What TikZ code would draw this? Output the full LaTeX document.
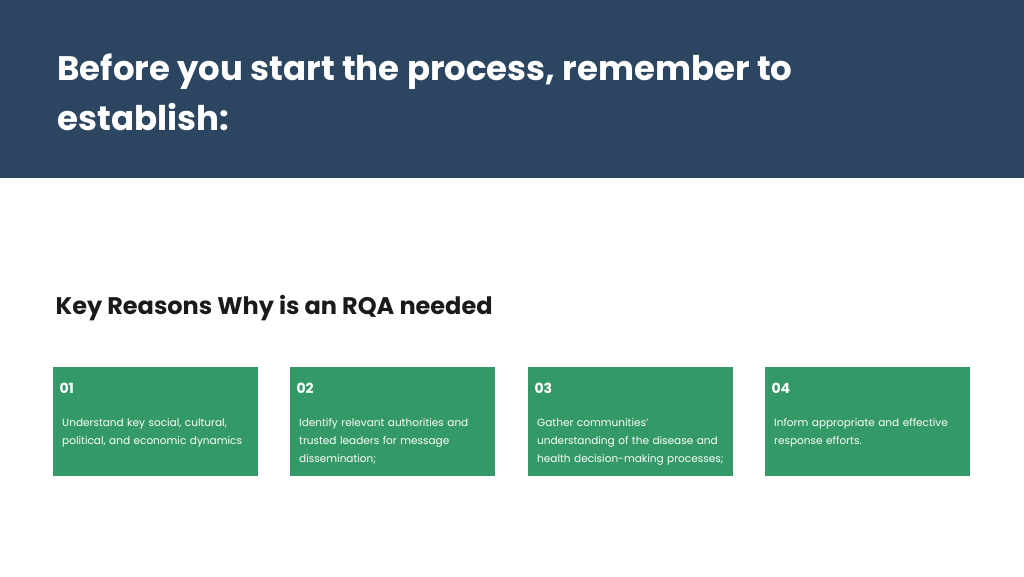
\documentclass[tikz,border=0pt]{standalone}
\usepackage{fontspec}
\setmainfont{Poppins}
\usepackage{tikz}
\definecolor{bannerblue}{HTML}{2C4662}
\definecolor{cardgreen}{HTML}{339966}
\definecolor{headdark}{HTML}{1A1A1A}
\tikzset{
  card/.style = {fill = cardgreen, draw = none},
  num/.style = {anchor = west, text = white, font = \fontsize{14}{14}\selectfont\bfseries},
  body/.style = {anchor = north west, text = white, align = left, text width = 190pt,
    inner sep = 0pt, font = \fontsize{10.5}{18}\selectfont}
}
\begin{document}
\begin{tikzpicture}[x = 1pt, y = -1pt]
\useasboundingbox (0, 0) rectangle (1024, 576);
\fill[color = bannerblue] (0, 0) rectangle (1024, 178);
\node (title) at (54, 92) [anchor = west, text = white, align = left,
  font = \fontsize{34}{50}\selectfont\bfseries] {Before you start the process, remember to\\establish:};
\node (reasons) at (52, 308) [anchor = west, text = headdark,
  font = \fontsize{24}{24}\selectfont\bfseries] {Key Reasons Why is an RQA needed};
% cards
\foreach \x/\n/\t in {53/01/{Understand key social, cultural,\\political, and economic dynamics},
  290/02/{Identify relevant authorities and\\trusted leaders for message\\dissemination;},
  528/03/{Gather communities'\\understanding of the disease and\\health decision-making processes;},
  765/04/{Inform appropriate and effective\\response efforts.}} {
  \fill[card] (\x, 367) rectangle ++(205, 109);
  \node (num\n) at (\x + 3, 388) [num] {\n};
  \node (text\n) at (\x + 9, 418) [body] {\t};
}
\end{tikzpicture}
\end{document}
